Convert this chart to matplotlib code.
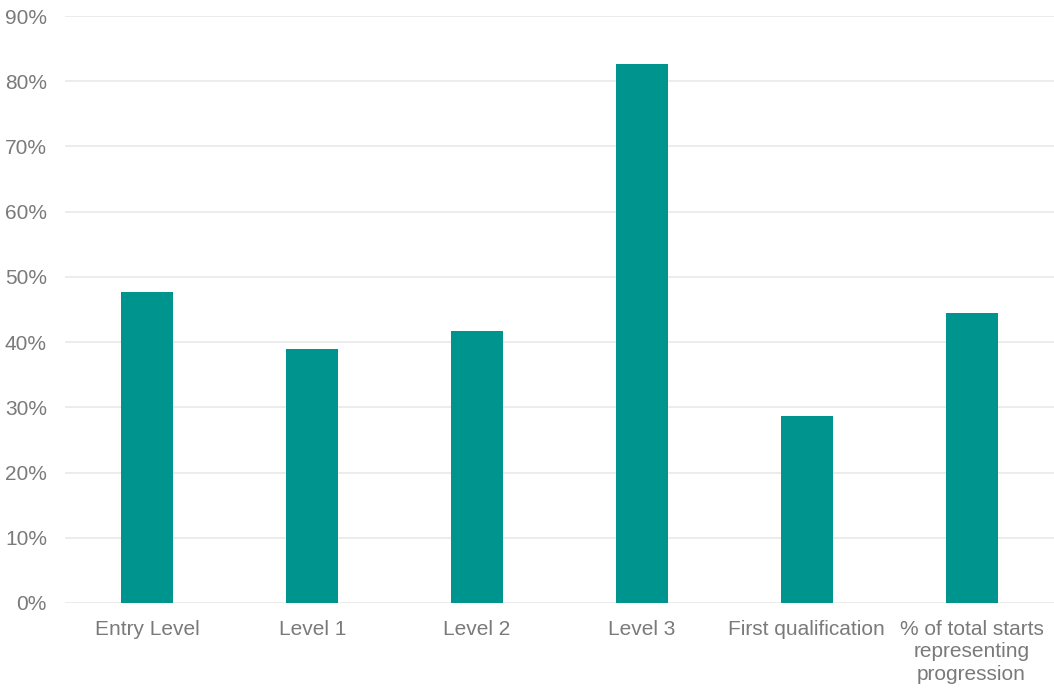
import matplotlib
matplotlib.use("Agg")
import matplotlib.pyplot as plt
from matplotlib.ticker import PercentFormatter

categories = ["Entry Level", "Level 1", "Level 2", "Level 3",
              "First qualification", "% of total starts\nrepresenting\nprogression"]
values = [47.7, 38.9, 41.7, 82.7, 28.6, 44.5]
y_ticks = [0, 10, 20, 30, 40, 50, 60, 70, 80, 90]

plt.rcParams['font.family'] = ['Liberation Sans', 'DejaVu Sans']

fig = plt.figure(figsize=(10.54, 6.88), dpi=100)
ax = fig.add_axes([65 / 1054, 1 - 603 / 688, 1 - 65 / 1054, (603 - 16) / 688])

x = list(range(len(categories)))
ax.bar(x, values, width=0.316, color='#00948f', zorder=3)

ax.set_xlim(-0.5, len(categories) - 0.5)
ax.set_ylim(0, 90)
ax.set_yticks(y_ticks)
ax.yaxis.set_major_formatter(PercentFormatter(decimals=0))
ax.set_xticks(x)
ax.set_xticklabels(categories, linespacing=1.25)

ax.grid(axis='y', color='#ebebeb', linewidth=1.3, zorder=0)
for s in ax.spines.values():
    s.set_visible(False)
ax.tick_params(axis='both', length=0, labelsize=15, labelcolor='#7a7a7a')
ax.tick_params(axis='y', pad=13)
ax.tick_params(axis='x', pad=12)

fig.savefig("out.png", dpi=100)
